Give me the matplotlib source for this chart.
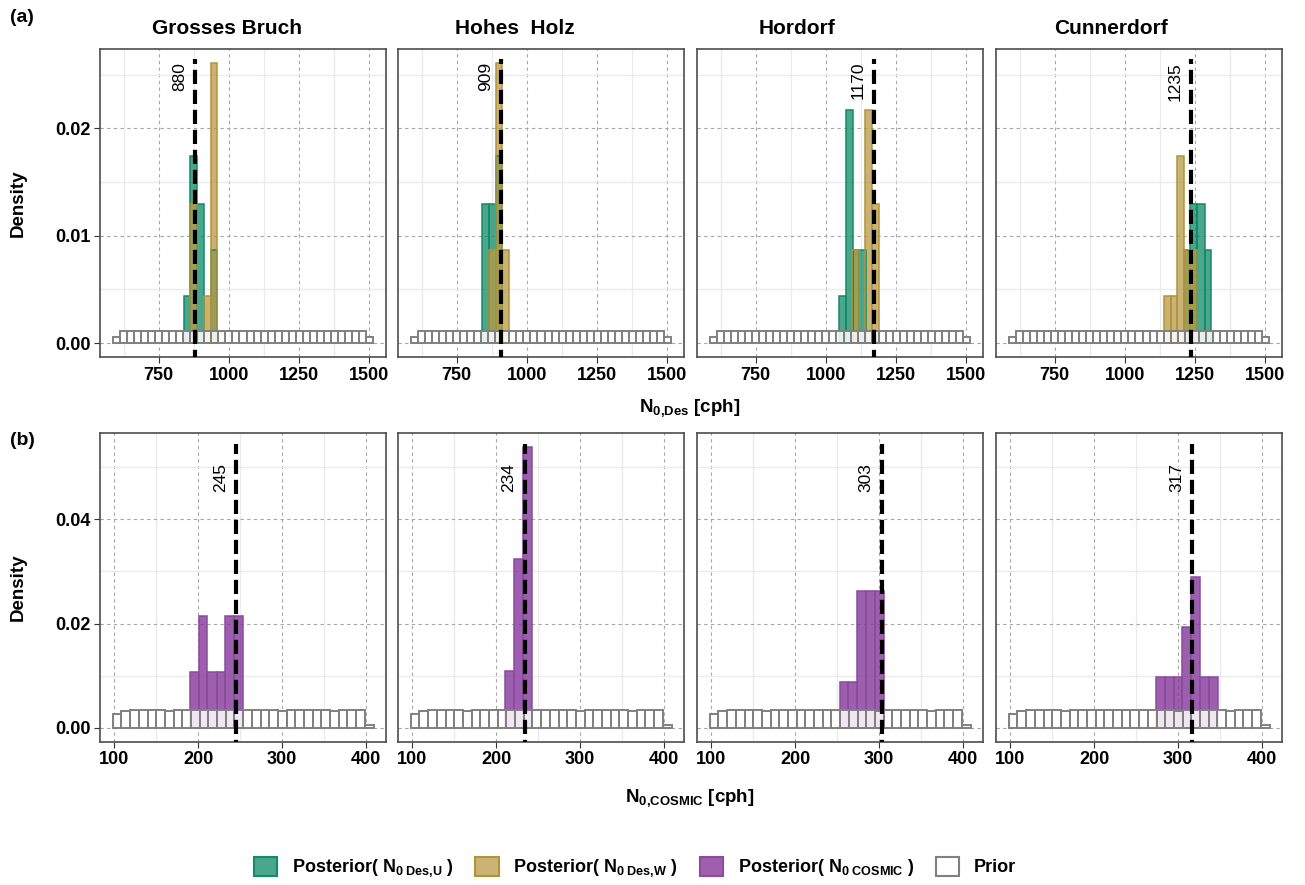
import matplotlib.pyplot as plt
import numpy as np
from matplotlib.patches import Patch
from matplotlib.ticker import MultipleLocator

plt.rcParams["font.family"] = ["Liberation Sans", "DejaVu Sans"]
plt.rcParams["mathtext.fontset"] = "custom"
plt.rcParams["mathtext.rm"] = "Liberation Sans"
plt.rcParams["mathtext.bf"] = "Liberation Sans:bold"
plt.rcParams["mathtext.it"] = "Liberation Sans:italic"

sites = ["Grosses Bruch", "Hohes  Holz", "Hordorf", "Cunnerdorf"]
title_x_px = [227, 515, 797, 1111]

# best estimates (dashed lines)
n0_des_best = [880, 909, 1170, 1235]
n0_cosmic_best = [245, 234, 303, 317]

# posterior N0 Des,U : bin edges / densities per site
des_u_edges = [
    [839, 863, 887, 911, 935, 959],
    [841, 865, 889, 913],
    [1047, 1071, 1095, 1119, 1143],
    [1210, 1233, 1257, 1284, 1307],
]
des_u_dens = [
    [0.0044, 0.0174, 0.0130, 0.0, 0.0087],
    [0.0130, 0.0130, 0.0174],
    [0.0044, 0.0217, 0.0087, 0.0087],
    [0.0087, 0.0130, 0.0130, 0.0087],
]

# posterior N0 Des,W
des_w_edges = [
    [863, 887, 911, 935, 959],
    [865, 889, 913, 937],
    [1092, 1116, 1140, 1165, 1190],
    [1140, 1163, 1186, 1210, 1233, 1257],
]
des_w_dens = [
    [0.0130, 0.0, 0.0044, 0.0261],
    [0.0087, 0.0261, 0.0087],
    [0.0087, 0.0, 0.0217, 0.0130],
    [0.0044, 0.0044, 0.0174, 0.0087, 0.0087],
]

# posterior N0 COSMIC
cosmic_edges = [
    [190, 201, 211, 222, 232, 243, 253],
    [211, 221, 231.5, 243],
    [253, 263.5, 274, 284.5, 295, 305.5],
    [273.6, 284.1, 294.7, 305.2, 315.8, 326.3, 336.9, 347.4],
]
cosmic_dens = [
    [0.0107, 0.0214, 0.0107, 0.0107, 0.0214, 0.0214],
    [0.0108, 0.0323, 0.0539],
    [0.0088, 0.0088, 0.0263, 0.0263, 0.0263],
    [0.0097, 0.0097, 0.0097, 0.0193, 0.0290, 0.0097, 0.0097],
]

# priors (histograms of uniform prior samples)
prior_des_start, prior_des_width = 587.5, 25
prior_des_dens = [0.00056] + [0.00111] * 35 + [0.00056]
prior_cosmic_start, prior_cosmic_width = 98, 10.37
prior_cosmic_dens = [0.0027, 0.0032, 0.0033, 0.0034, 0.0033, 0.0033, 0.0032, 0.0033,
                     0.0033, 0.0033, 0.0034, 0.0033, 0.0033, 0.0033, 0.0033, 0.0034,
                     0.0033, 0.0033, 0.0033, 0.0032, 0.0033, 0.0034, 0.0033, 0.0033,
                     0.0033, 0.0032, 0.0033, 0.0033, 0.0033, 0.0005]

col_u = ("#0f8a66", "#138a6a")
col_w = ("#b89a45", "#b3933a")
col_c = ("#84379a", "#8d4a9f")
prior_edge = "#808080"

W, H = 1305, 885
fig = plt.figure(figsize=(W / 100, H / 100), dpi=100)

panel_left_px = [100, 398, 697, 996]
panel_w_px = 286


def hist_bars(ax, edges, dens, fill, edge, alpha, lw=1.1):
    edges = np.asarray(edges, dtype=float)
    dens = np.asarray(dens, dtype=float)
    keep = dens > 0
    ax.bar(edges[:-1][keep], dens[keep], width=np.diff(edges)[keep], align="edge",
           facecolor=fill, alpha=alpha, edgecolor="none", zorder=3)
    ax.bar(edges[:-1][keep], dens[keep], width=np.diff(edges)[keep], align="edge",
           facecolor="none", edgecolor=edge, linewidth=lw, zorder=3.1)


def prior_bars(ax, start, width, dens):
    dens = np.asarray(dens)
    lefts = start + width * np.arange(len(dens))
    ax.bar(lefts, dens, width=width, align="edge", facecolor="white", alpha=0.85,
           edgecolor="none", zorder=4)
    ax.bar(lefts, dens, width=width, align="edge", facecolor="none",
           edgecolor=prior_edge, linewidth=1.4, zorder=4.1)


def style_axes(ax, show_y):
    ax.set_axisbelow(True)
    ax.grid(which="major", color="#a6a6a6", linestyle=(0, (3, 3)), linewidth=0.8)
    ax.grid(which="minor", color="#ebebeb", linestyle="-", linewidth=1.0)
    for s in ax.spines.values():
        s.set_color("#4d4d4d")
        s.set_linewidth(1.2)
    ax.tick_params(which="major", length=4, width=0.8, color="#333333",
                   labelsize=13, pad=3)
    ax.tick_params(which="minor", length=0)
    for lab in ax.get_xticklabels() + ax.get_yticklabels():
        lab.set_fontweight("bold")
    if not show_y:
        ax.tick_params(axis="y", left=False, labelleft=False)


rows = [
    dict(bottom_px=357, top_px=49, xlim=(541.25, 1558.75), ylim=(-0.0013, 0.0274),
         xmaj=250, xmin=125, ymaj=0.01, ymin=0.005, ytext=0.0262, yline=0.0265,
         best=n0_des_best),
    dict(bottom_px=741.7, top_px=433, xlim=(82.8, 424.0), ylim=(-0.0027, 0.0566),
         xmaj=100, xmin=50, ymaj=0.02, ymin=0.01, ytext=0.0508, yline=0.0544,
         best=n0_cosmic_best),
]

for r, row in enumerate(rows):
    for i in range(4):
        ax = fig.add_axes([panel_left_px[i] / W, 1 - row["bottom_px"] / H,
                           panel_w_px / W, (row["bottom_px"] - row["top_px"]) / H])
        if r == 0:
            hist_bars(ax, des_u_edges[i], des_u_dens[i], col_u[0], col_u[1], 0.75)
            hist_bars(ax, des_w_edges[i], des_w_dens[i], col_w[0], col_w[1], 0.75)
            prior_bars(ax, prior_des_start, prior_des_width, prior_des_dens)
        else:
            hist_bars(ax, cosmic_edges[i], cosmic_dens[i], col_c[0], col_c[1], 0.8)
            prior_bars(ax, prior_cosmic_start, prior_cosmic_width, prior_cosmic_dens)
        best = row["best"][i]
        ax.vlines(best, row["ylim"][0] - 0.01, row["yline"], colors="black",
                  linewidth=3, linestyles=(0, (3.4, 1.4)), zorder=6)
        ax.annotate(str(best), xy=(best, row["ytext"]), xytext=(-6, 0),
                    textcoords="offset points", rotation=90, ha="right", va="top",
                    fontsize=12.5, zorder=7)
        ax.set_xlim(*row["xlim"])
        ax.set_ylim(*row["ylim"])
        ax.xaxis.set_major_locator(MultipleLocator(row["xmaj"]))
        ax.xaxis.set_minor_locator(MultipleLocator(row["xmin"]))
        ax.yaxis.set_major_locator(MultipleLocator(row["ymaj"]))
        ax.yaxis.set_minor_locator(MultipleLocator(row["ymin"]))
        ax.yaxis.set_major_formatter(plt.FormatStrFormatter("%.2f"))
        style_axes(ax, i == 0)
        if i == 0:
            ax.set_ylabel("Density", fontsize=13.5, fontweight="bold")
            ax.yaxis.set_label_coords(-73 / panel_w_px, 0.5)

for i, name in enumerate(sites):
    fig.text(title_x_px[i] / W, 1 - 28 / H, name, ha="center", va="center",
             fontsize=15, fontweight="bold")

fig.text(10 / W, 1 - 17 / H, "(a)", ha="left", va="center", fontsize=14, fontweight="bold")
fig.text(10 / W, 1 - 440 / H, "(b)", ha="left", va="center", fontsize=14, fontweight="bold")

fig.text(690 / W, 1 - 408 / H, r"$\mathbf{N_{0{,}Des}}$ [cph]", ha="center", va="center",
         fontsize=13.5, fontweight="bold")
fig.text(690 / W, 1 - 798 / H, r"$\mathbf{N_{0{,}COSMIC}}$ [cph]", ha="center",
         va="center", fontsize=13.5, fontweight="bold")

handles = [
    Patch(facecolor="#4ba78c", edgecolor=col_u[1], linewidth=1.5),
    Patch(facecolor="#cab374", edgecolor=col_w[1], linewidth=1.5),
    Patch(facecolor="#9d5fae", edgecolor=col_c[1], linewidth=1.5),
    Patch(facecolor="white", edgecolor=prior_edge, linewidth=1.5),
]
labels = [
    r"Posterior( $\mathbf{N_{0\ Des{,}U}}$ )",
    r"Posterior( $\mathbf{N_{0\ Des{,}W}}$ )",
    r"Posterior( $\mathbf{N_{0\ COSMIC}}$ )",
    "Prior",
]
leg = fig.legend(handles, labels, loc="center", bbox_to_anchor=(635 / W, 1 - 868 / H),
                 ncol=4, frameon=False, fontsize=13, handlelength=1.3, handleheight=1.3,
                 handletextpad=0.8, columnspacing=1.2)
for t in leg.get_texts():
    t.set_fontweight("bold")

fig.savefig("out.png", dpi=100)
